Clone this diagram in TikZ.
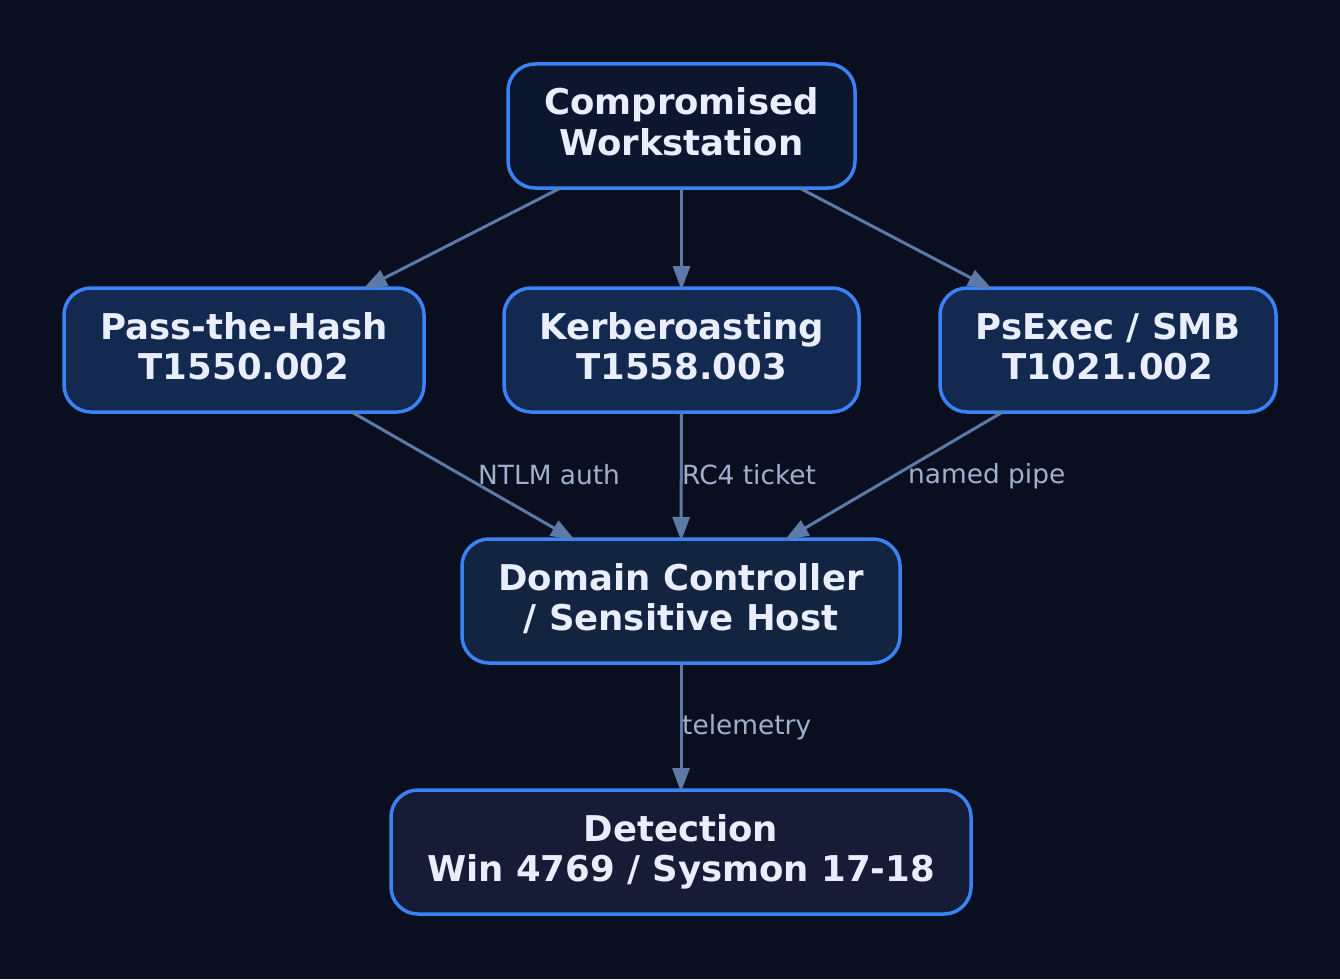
\documentclass[tikz,border=0pt]{standalone}
\usepackage{fontspec}
\setmainfont{DejaVu Sans}
\usetikzlibrary{arrows.meta}
\definecolor{bg}{HTML}{0A0F1F}
\definecolor{bordc}{HTML}{3B82F6}
\definecolor{ftop}{HTML}{0C162E}
\definecolor{fmid}{HTML}{132950}
\definecolor{fdc}{HTML}{12243F}
\definecolor{fdet}{HTML}{161C36}
\definecolor{edgec}{HTML}{5B7AA8}
\definecolor{lblc}{HTML}{9FB0CC}
\definecolor{txtc}{HTML}{E8EEFC}
\tikzset{
  box/.style={draw=bordc, line width=3.5pt, rounded corners=27pt, inner sep=0pt, outer sep=0pt,
    minimum height=124pt, align=center, text=txtc, text height=66pt, text depth=8pt,
    font=\fontsize{35.5}{40}\selectfont\bfseries},
  edge/.style={draw=edgec, line width=3pt, shorten >=-2pt, -{Triangle[length=24pt,width=17pt]}},
  lbl/.style={text=lblc, inner sep=0pt, font=\fontsize{26.4}{30}\selectfont}
}
\begin{document}
\begin{tikzpicture}[x=1pt,y=-1pt]
\fill[bg] (0,0) rectangle (1340,979);
\useasboundingbox (0,0) rectangle (1340,979);
\node[box, fill=ftop, minimum width=347pt] (top) at (681.5,126) {Compromised\\Workstation};
\node[box, fill=fmid, minimum width=360pt] (pth) at (244,350) {Pass-the-Hash\\T1550.002};
\node[box, fill=fmid, minimum width=355pt] (kerb) at (681.5,350) {Kerberoasting\\T1558.003};
\node[box, fill=fmid, minimum width=336pt] (psx) at (1108,350) {PsExec / SMB\\T1021.002};
\node[box, fill=fdc, minimum width=438pt] (dc) at (681,601) {Domain Controller\\/ Sensitive Host};
\node[box, fill=fdet, minimum width=580pt] (det) at (681,852) {Detection\\Win 4769 / Sysmon 17-18};
\draw[edge] (top) -- (pth);
\draw[edge] (top) -- (kerb);
\draw[edge] (top) -- (psx);
\draw[edge] (pth) -- (dc);
\draw[edge] (kerb) -- (dc);
\draw[edge] (psx) -- (dc);
\draw[edge] (dc) -- (det);
\node[lbl, anchor=west] (l1) at (478,475) {NTLM auth};
\node[lbl, anchor=west] (l2) at (682,475) {RC4 ticket};
\node[lbl, anchor=west] (l3) at (908,476) {named pipe};
\node[lbl, anchor=west] (l4) at (682,727) {telemetry};
\end{tikzpicture}
\end{document}
